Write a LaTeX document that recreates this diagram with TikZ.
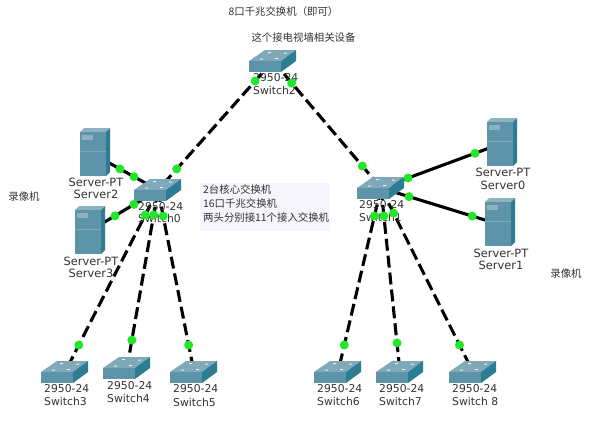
\documentclass[tikz,border=0pt]{standalone}
\usepackage{fontspec}
\setmainfont{DejaVu Sans}
\newfontfamily\cjkfont{Noto Sans CJK SC}
\usetikzlibrary{calc}
\definecolor{swtop}{HTML}{7FA9B9}
\definecolor{swfront}{HTML}{5E94A9}
\definecolor{swside}{HTML}{2C7C93}
\definecolor{srvtop}{HTML}{8DB3C1}
\definecolor{linkgreen}{HTML}{22E62A}
\definecolor{labelgray}{HTML}{333333}
\definecolor{notebg}{HTML}{F5F5FB}
\tikzset{
  devlabel/.style={inner sep=0pt,text=labelgray,font=\fontsize{10.8}{12}\selectfont},
  srvlabel/.style={inner sep=0pt,text=labelgray,font=\fontsize{11.4}{12}\selectfont},
  cjklabel/.style={inner sep=0pt,text=labelgray,font=\cjkfont\fontsize{10.4}{12}\selectfont},
  dashlink/.style={draw=black,line width=3.1pt,dash pattern=on 12pt off 5pt},
  solidlink/.style={draw=black,line width=3.1pt},
  linkdot/.style={circle,fill=linkgreen,draw=none,minimum size=9pt,inner sep=0pt},
}
% name is the icon's centre
\newcommand{\SwitchIcon}[1]{%
  \begin{scope}[shift={(#1)}]
    \fill[swtop] (-24,0) -- (-8,-11) -- (23,-11) -- (8,0) -- cycle;
    \fill[swfront] (-24,0) rectangle (8,11);
    \fill[swside] (8,0) -- (23,-11) -- (23,0) -- (8,11) -- cycle;
    \fill[white!85!swtop] (-13,-2.5) rectangle (-10,-1.5) (-5,-9) rectangle (-2,-8)
       (11,-8.5) rectangle (14,-7.5) (2,-3) rectangle (5,-2);
  \end{scope}}
\newcommand{\ServerIcon}[1]{%
  \begin{scope}[shift={(#1)}]
    \fill[srvtop] (-13,-22) -- (-9,-26) -- (17,-26) -- (13,-22) -- cycle;
    \fill[swfront] (-13,-22) rectangle (13,22);
    \fill[swside] (13,-22) -- (17,-26) -- (17,18) -- (13,22) -- cycle;
    \fill[srvtop] (-11,-19) rectangle (0,-14);
    \draw[swtop,line width=.4pt] (-13,-3) -- (13,-3);
  \end{scope}}
\begin{document}
\begin{tikzpicture}[x=1pt,y=-1pt]
\path[use as bounding box,fill=white] (0,0) rectangle (589,424);
% device anchors
\coordinate (sw0) at (158,190);
\coordinate (sw1) at (381,188);
\coordinate (sw2) at (273,61);
\coordinate (sw3) at (65,372);
\coordinate (sw4) at (127,368);
\coordinate (sw5) at (194,372);
\coordinate (sw6) at (338,372);
\coordinate (sw7) at (400,372);
\coordinate (sw8) at (473,372);
\coordinate (srv0) at (500,144);
\coordinate (srv1) at (498,224);
\coordinate (srv2) at (93,154);
\coordinate (srv3) at (88,232);
% note panel
\fill[notebg] (200,183) rectangle (330,231);
% connectors
\draw[dashlink] (sw2) -- (sw0);
\draw[dashlink] (sw2) -- (sw1);
\draw[dashlink] (sw0) -- (sw3);
\draw[dashlink] (sw0) -- (sw4);
\draw[dashlink] (sw0) -- (sw5);
\draw[dashlink] (sw1) -- (sw6);
\draw[dashlink] (sw1) -- (sw7);
\draw[dashlink] (sw1) -- (sw8);
\draw[solidlink] (sw0) -- (srv2);
\draw[solidlink] (sw0) -- (srv3);
\draw[solidlink] (sw1) -- (srv0);
\draw[solidlink] (sw1) -- (srv1);
% icons
\foreach \n in {sw0,sw1,sw2,sw3,sw4,sw5,sw6,sw7,sw8}{\SwitchIcon{\n}}
\foreach \n in {srv0,srv1,srv2,srv3}{\ServerIcon{\n}}
% device labels
\foreach \n/\x/\ya/\yb/\t in {
  sw0/138/207/218/Switch0, sw1/359/205/217/Switch1, sw2/253/78/90/Switch2,
  sw3/44/389/401/Switch3, sw4/107/386/398/Switch4, sw5/173/389/402/Switch5,
  sw6/317/389/401/Switch6, sw7/379/389/401/Switch7, sw8/452/389/401/Switch 8}{
  \node[devlabel,anchor=west] (\n model) at (\x,\ya) {2950-24};
  \node[devlabel,anchor=west] (\n name) at (\x,\yb) {\t};
}
\foreach \n/\x/\ya/\yb/\t in {
  srv0/503/172/185/Server0, srv1/501/253/265/Server1,
  srv2/96/182/194/Server2, srv3/91/261/273/Server3}{
  \node[srvlabel] (\n model) at (\x,\ya) {Server-PT};
  \node[srvlabel] (\n name) at (\x,\yb) {\t};
}
% notes
\node[cjklabel] (title) at (283.5,12) {8口千兆交换机（即可）};
\node[cjklabel] (wall) at (303.5,38) {这个接电视墙相关设备};
\node[cjklabel] (camL) at (24,197) {录像机};
\node[cjklabel] (camR) at (566,274) {录像机};
\node[cjklabel,anchor=west] (noteA) at (203,190) {2台核心交换机};
\node[cjklabel,anchor=west] (noteB) at (203,204) {16口千兆交换机};
\node[cjklabel,anchor=west] (noteC) at (203,218) {两头分别接11个接入交换机};
% link lights
\foreach \a/\b/\p/\q in {
  sw2/sw0/.155/.837, sw2/sw1/.173/.827,
  sw0/srv2/.37/.585, sw0/srv3/.343/.614,
  sw1/srv0/.227/.79, sw1/srv1/.24/.78,
  sw0/sw3/.137/.852, sw0/sw4/.14/.843, sw0/sw5/.143/.852,
  sw1/sw6/.152/.853, sw1/sw7/.152/.842, sw1/sw8/.136/.853}{
  \node[linkdot] (\a\b p) at ($(\a)!\p!(\b)$) {};
  \node[linkdot] (\a\b q) at ($(\a)!\q!(\b)$) {};
}
\end{tikzpicture}
\end{document}
